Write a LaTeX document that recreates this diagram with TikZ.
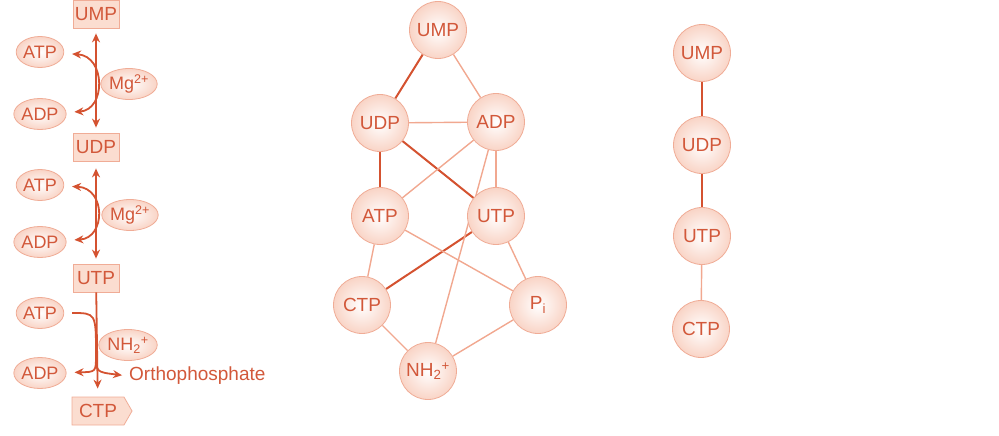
\documentclass[tikz,border=0pt]{standalone}
\usepackage{fontspec}
\setmainfont{Liberation Sans}
\usepackage{xcolor}
\definecolor{ink}{RGB}{210,88,58}
\definecolor{rust}{RGB}{212,82,48}
\definecolor{pale}{RGB}{241,168,144}
\definecolor{rim}{RGB}{240,172,150}
\definecolor{blush}{RGB}{249,212,198}
\definecolor{boxfill}{RGB}{251,221,208}
\newcommand\figfont{\fontsize{19}{21}\selectfont}
\newcommand\ionfont{\fontsize{18}{20}\selectfont}
\usepackage{tikz}
\usetikzlibrary{positioning,arrows.meta,backgrounds,shapes.geometric,shapes.symbols}

\begin{document}
\begin{tikzpicture}[x=1pt,y=-1pt,
      met/.style={circle,draw=rim,thick,minimum size=57pt,inner sep=0pt,
                  shading=radial,inner color=white,outer color=blush,text=ink,font=\figfont},
      ion/.style={ellipse,draw=rim,thick,minimum width=45pt,minimum height=31pt,inner sep=0pt,
                  shading=radial,inner color=white,outer color=blush,text=ink,font=\ionfont},
      cmp/.style={rectangle,draw=rim,thick,fill=boxfill,minimum width=46pt,minimum height=28pt,
                  inner sep=1pt,text=ink,font=\figfont},
      strong/.style={draw=rust,line width=2pt},
      weak/.style={draw=pale,line width=1.4pt},
      flow/.style={draw=rust,line width=1.8pt,-{Stealth[length=9pt,width=8pt]}},
      both/.style={draw=rust,line width=1.8pt,{Stealth[length=9pt,width=8pt]}-{Stealth[length=9pt,width=8pt]}}]
    \useasboundingbox (0,0) rectangle (999,436);

    % pathway
    \node[cmp] (ump1) at (96,14) {UMP};
    \node[cmp] (udp1) at (96,147) {UDP};
    \node[cmp] (utp1) at (96,278) {UTP};
    \node[cmp,signal,signal to=east,signal pointer angle=120,minimum width=60pt] (ctp1) at (98,411) {CTP};
    \node[ion] (atpa) at (40,52) {ATP};
    \node[ion] (adpa) at (40,114) {ADP};
    \node[ion,minimum width=56pt] (mga) at (129,84) {Mg\textsuperscript{2+}};
    \node[ion] (atpb) at (40,185) {ATP};
    \node[ion] (adpb) at (40,242) {ADP};
    \node[ion,minimum width=56pt] (mgb) at (130,215) {Mg\textsuperscript{2+}};
    \node[ion] (atpc) at (40,313) {ATP};
    \node[ion,minimum width=56pt] (nhc) at (128,345) {NH\textsubscript{2}\textsuperscript{+}};
    \node[ion] (adpc) at (40,373) {ADP};
    \node[text=ink,font=\figfont,anchor=west,inner sep=1pt] (ortho) at (128,376) {Orthophosphate};
    \coordinate (m3) at (96,355);

    \draw[both,shorten <=5pt,shorten >=5pt] (ump1) -- (udp1);
    \draw[both,shorten <=8pt,shorten >=8pt] (atpa) .. controls (106,56) and (106,110) .. (adpa);
    \draw[both,shorten <=7pt,shorten >=5pt] (udp1) -- (utp1);
    \draw[both,shorten <=8pt,shorten >=8pt] (atpb) .. controls (106,188) and (106,238) .. (adpb);
    \draw[flow,shorten >=8pt] (utp1) -- (ctp1);
    \draw[strong,line width=1.8pt,shorten <=8pt] (atpc) .. controls (96,313) .. (m3);
    \draw[flow,shorten >=8pt] (m3) .. controls (96,372) .. (adpc);
    \draw[flow,shorten >=6pt] (m3) .. controls (96,372) .. (ortho.west);

    % metabolite network
    \node[met] (ump2) at (438,30) {UMP};
    \node[met] (udp2) at (380,123) {UDP};
    \node[met] (adp2) at (496,122) {ADP};
    \node[met] (atp2) at (380,216) {ATP};
    \node[met] (utp2) at (496,216) {UTP};
    \node[met] (ctp2) at (362,305) {CTP};
    \node[met] (pi2) at (538,305) {P\textsubscript{i}};
    \node[met] (nh2) at (428,371) {NH\textsubscript{2}\textsuperscript{+}};

    % simplified chain
    \node[met] (umpr) at (702,53) {UMP};
    \node[met] (udpr) at (702,145) {UDP};
    \node[met] (utpr) at (702,236) {UTP};
    \node[met] (ctpr) at (701,329) {CTP};

    \begin{scope}[on background layer]
      \draw[strong] (ump2) -- (udp2);
      \draw[strong] (udp2) -- (atp2);
      \draw[strong] (udp2) -- (utp2);
      \draw[strong] (utp2) -- (ctp2);
      \draw[weak] (ump2) -- (adp2);
      \draw[weak] (udp2) -- (adp2);
      \draw[weak] (adp2) -- (atp2);
      \draw[weak] (adp2) -- (utp2);
      \draw[weak] (adp2) -- (nh2);
      \draw[weak] (atp2) -- (ctp2);
      \draw[weak] (atp2) -- (pi2);
      \draw[weak] (utp2) -- (pi2);
      \draw[weak] (ctp2) -- (nh2);
      \draw[weak] (pi2) -- (nh2);
      \draw[strong] (umpr) -- (udpr);
      \draw[strong] (udpr) -- (utpr);
      \draw[weak] (utpr) -- (ctpr);
    \end{scope}
  \end{tikzpicture}
\end{document}
